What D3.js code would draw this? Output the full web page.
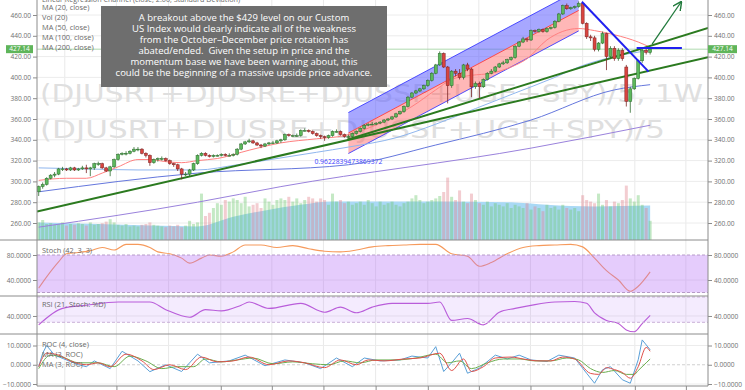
<!DOCTYPE html>
<html>
<head>
<meta charset="utf-8">
<script src="https://cdn.jsdelivr.net/npm/d3@7"></script>
<style>
body { margin: 0; background: #fff; }
svg { display: block; font-family: "Open Sans", sans-serif; }
</style>
</head>
<body>
<svg id="svg" width="745" height="390"></svg>
<script>
// weekly bars, first bar is the week of Monday 15 Feb 2016
var firstWeek = new Date(2016, 1, 15);

var opens = [
 290,295,297,303,306,307,312,312,311,313, 311,312,313,312,313,317,317,313,310,314,
 321,326,327,327,329,331,331,327,325,318, 321,322,322,320,317,316,312,307,307,311,
 317,325,327,325,324,325,325,326,325,325, 326,331,336,338,339,337,335,334,336,337,
 337,339,340,345,344,344,344,349,349,348, 346,344,343,342,344,348,348,345,343,343,
 346,348,351,354,355,355,356,357,359,360, 362,365,367,372,381,385,387,389,392,397,
 404,412,423,410,392,406,404,400,412,408, 391,394,391,398,404,406,410,413,414,417,
 419,430,434,437,436,445,444,446,444,447, 448,454,461,469,466,467,468,471,452,439,
 438,427,433,442,420,428,418,426,410,377, 389,399,416,426,424];
var closes = [
 295,297,303,306,307,312,312,311,313,311, 312,313,312,313,317,317,313,310,314,321,
 326,327,327,329,331,331,327,325,318,321, 322,322,320,317,316,312,307,307,311,317,
 325,327,325,324,325,325,326,325,325,326, 331,336,338,339,337,335,334,336,337,337,
 339,340,345,344,344,344,349,349,348,346, 344,343,342,344,348,348,345,343,343,346,
 348,351,354,355,355,356,357,359,360,362, 365,367,372,381,385,387,389,392,397,404,
 412,423,410,392,406,404,400,412,408,391, 394,391,398,404,406,410,413,414,417,419,
 430,434,437,436,445,444,446,444,447,448, 454,461,469,466,467,468,471,452,439,438,
 427,433,442,420,428,418,426,418,377,389, 399,416,426,424,427.14];
var highs = [
 296,299,304,307,309,313,314,313,314,314, 313,315,316,314,318,319,318,314,315,322,
 327,328,329,330,333,333,332,328,326,322, 323,324,323,321,318,317,313,309,312,318,
 326,328,328,326,326,326,327,327,327,327, 332,337,339,341,340,338,336,337,338,339,
 340,341,346,346,345,346,350,351,350,349, 347,345,344,345,349,350,349,346,345,347,
 349,352,355,356,357,357,358,360,361,363, 366,368,373,382,386,388,390,393,398,405,
 413,425,424,411,407,408,408,413,414,409, 396,396,399,405,408,411,414,416,418,420,
 431,435,439,438,446,446,447,447,448,449, 455,462,470,471,468,469,473,472,453,441,
 440,434,444,443,430,430,428,428,412,391, 400,417,428,428,429];
var lows = [
 286,293,296,302,304,306,310,310,310,310, 310,311,308,305,311,315,312,309,305,313,
 320,325,325,326,328,329,326,323,315,317, 319,320,319,316,314,310,302,305,305,310,
 316,324,324,323,323,324,324,324,324,324, 325,330,335,337,336,334,332,333,335,336,
 336,337,339,343,343,343,343,348,347,345, 343,341,339,341,343,347,344,342,341,342,
 345,347,350,353,354,354,355,356,358,359, 361,364,366,371,380,384,386,388,391,396,
 403,411,409,375,390,401,398,398,406,381, 389,380,390,397,403,405,409,412,413,416,
 418,429,433,434,435,443,443,443,443,446, 447,453,460,465,465,466,467,451,437,435,
 425,425,432,407,418,416,416,416,372,366, 388,398,414,422,422];
var volumes = [
 22,25,20,21,19,20,22,18,20,19, 21,20,18,22,19,20,21,23,26,22,
 19,18,20,17,18,17,19,20,22,19, 18,17,16,18,17,19,16,18,24,20,
 22,58,30,34,40,46,44,50,48,52, 50,46,54,42,44,46,40,52,48,44,
 50,52,50,54,48,52,46,50,54,52, 48,52,50,44,58,48,50,46,48,44,
 46,48,44,50,46,42,48,44,46,48, 44,42,46,48,52,56,50,46,48,50,
 52,55,60,78,54,50,62,48,46,58, 50,46,44,48,42,46,44,42,46,40,
 44,42,40,46,38,42,40,36,44,40, 42,38,44,40,38,40,36,56,50,48,
 46,58,44,50,42,48,46,50,68,52, 48,56,44,40,24];

// [week index, value]
var volAvg = [[0,22],[15,20],[28,18],[40,17],[49,29],[57,37],[66,44],[74,48],[100,48],[120,47],[128,44],[140,42],[154,43]];
var ma20 = [[0,301],[7,303],[12,303],[16,308],[20,314],[25,321],[28,321],[32,319],[36,318],[40,320],[45,322],[53,330],[61,337],[70,341],[77,344],[86,356],[94,372],[100,388],[104,398],[109,402],[114,404],[119,410],[123,418],[128,436],[136,447],[140,445],[145,441],[151,434],[154,429]];
var ma50 = [[0,313],[12,312],[25,311],[40,311],[50,316],[60,322],[70,328],[78,333],[90,342],[100,355],[110,370],[120,385],[130,400],[136,410],[145,420],[154,426]];
var ma100 = [[0,290],[40,308],[78,316],[100,335],[124,359],[145,388],[154,393]];
var ma200 = [[0,256],[40,280],[61,295],[124,332],[154,354]];
var stoch = [[0,27],[2,45],[5,69],[7,82],[10,84],[13,87],[16,92],[19,88],[22,97],[25,97],[28,92],[30,85],[33,82],[36,75],[38,67],[41,75],[43,80],[46,78],[49,85],[52,96],[56,96],[60,92],[64,95],[68,90],[72,86],[76,85],[80,88],[84,93],[88,95],[92,96],[96,97],[100,97],[104,82],[108,78],[111,62],[114,68],[118,82],[122,92],[126,95],[130,96],[134,97],[137,93],[140,75],[143,55],[146,40],[149,22],[151,30],[154,53]];
var rsi = [[0,26],[6,52],[12,57],[20,62],[28,62],[32,50],[38,38],[42,50],[46,48],[51,57],[53,62],[58,52],[66,60],[72,46],[76,54],[80,45],[84,54],[89,60],[98,60],[101,62],[104,33],[108,36],[112,26],[116,46],[120,52],[125,58],[130,62],[135,63],[138,60],[140,45],[143,33],[146,28],[148,18],[150,15],[152,28],[154,41]];
var roc = [[0,-1],[1,6],[2,10],[4,5],[7,2.5],[10,0],[12,-1],[14,2],[18,-2],[21,7],[25,2],[28,-3.6],[32,0],[36,-3.5],[40,5.5],[43,1],[48,2],[52,5],[57,-0.5],[62,2.5],[67,1],[71,-2],[75,3.5],[79,-1],[82,3.5],[86,2],[91,2.5],[94,4.5],[98,3.5],[100,9.4],[102,-3.5],[104,1],[106,6],[108,-4.4],[110,-2.6],[111,-1.7],[115,5],[118,3],[121,5],[124,2.5],[128,1.7],[131,5],[135,3.5],[138,-4.4],[140,-9.6],[142,-2.6],[144,-1],[147,-7.8],[149,-9.6],[151,2.6],[152,12.9],[154,7.8]];
var rocMaRed = [[0,-1],[2,6],[5,5],[8,2],[12,0],[15,1],[18,-1],[22,5.5],[26,2],[29,-2.5],[33,0],[37,-2.5],[41,4],[45,1.5],[49,2],[53,4],[58,0],[63,2],[67,1],[72,-1.5],[76,2.5],[80,0],[83,2.5],[87,2],[92,3],[96,3.5],[101,6],[104,-3],[107,3],[109,-3.5],[112,-1],[115,3.5],[119,4],[122,3],[126,2],[129,2],[132,4],[135,3],[139,-4.5],[141,-5],[143,-1.5],[145,-2.5],[147,-4],[149,-7],[151,-1],[153,9],[154,7]];
var rocMaGreen = [[0,-2],[3,5],[6,4],[10,1],[15,1],[19,-1],[23,4.5],[27,2],[31,-2],[35,-1],[39,-1],[42,3],[46,1.5],[50,2.5],[54,3.5],[59,0.5],[64,1.5],[69,0.5],[73,0],[77,2],[81,1],[85,2.5],[90,2.5],[95,3.5],[100,5.5],[103,1],[106,2],[109,-2],[113,1],[117,3],[121,3],[125,2],[129,2],[133,3.5],[136,2.5],[139,-2],[142,-4],[145,-3],[148,-5],[150,-5],[151,-3],[153,1],[154,3]];

// drawings: regression channel, trend lines, arrow (week index, price)
var channel = {from: 78, to: 136, startMid: 346.5, endMid: 464.4, dev: 19.7, label: "0.9622839473869372"};
var greenLines = [[[-0.4,271],[168.6,419.5]], [[77.7,340],[168.6,447.6]]];
var blueLines = [[[136.8,472.8],[153.6,405.5]], [[150.6,428.3],[162,428.3]]];
var arrowLine = [[154.5,432],[161.8,472.5]];

var priceTicks = [260,280,300,320,340,360,380,400,420,440,460];
var lastPrice = 427.14;
var legendLabels = ["MA (20, close)", "Vol (20)", "MA (50, close)", "MA (100, close)", "MA (200, close)"];
var note = [
 "A breakout above the $429 level on our Custom",
 "US Index would clearly indicate all of the weakness",
 "from the October\u2013December price rotation has",
 "abated/ended.  Given the setup in price and the",
 "momentum base we have been warning about, this",
 "could be the beginning of a massive upside price advance."];
var watermark = ["(DJUSRT+DJUSRE+DJUSSF+UGE+SPY)/5, 1W", "(DJUSRT+DJUSRE+DJUSSF+UGE+SPY)/5"];
var watermarkWidths = [663, 625];

var svg = d3.select("#svg"),
    left = 37, right = 708;

var x = d3.scaleTime()
    .domain([new Date(2016, 1, 12), new Date(2019, 4, 10)])
    .range([left, right]);
function wx(i) { return x(new Date(+firstWeek + i * 7 * 864e5)); }

// panel scales
var y = d3.scaleLinear().domain([260, 460]).range([223, 15]);
var yVol = d3.scaleLinear().domain([0, 100]).range([240, 160]);
var yStoch = d3.scaleLinear().domain([20, 80]).range([292.5, 255]);
var yRsi = d3.scaleLinear().domain([30, 70]).range([322.3, 297]);
var yRoc = d3.scaleLinear().domain([-10, 10]).range([384, 345.5]);
var panels = [[0, 240], [240, 296], [296, 334], [334, 386]];

var defs = svg.append("defs");
panels.forEach(function(p, k) {
    defs.append("clipPath").attr("id", "clip" + k)
        .append("rect").attr("x", left).attr("y", p[0]).attr("width", right - left).attr("height", p[1] - p[0]);
});

// grid
var quarters = x.ticks(d3.timeMonth.every(3));
svg.append("g").selectAll("line").data(quarters).enter().append("line")
    .attr("x1", function(d) { return x(d); }).attr("x2", function(d) { return x(d); })
    .attr("y1", 0).attr("y2", 386)
    .attr("stroke", "#e9e9e9");
svg.append("g").selectAll("line").data(priceTicks).enter().append("line")
    .attr("x1", left).attr("x2", right)
    .attr("y1", function(d) { return y(d); }).attr("y2", function(d) { return y(d); })
    .attr("stroke", "#ececec");
[[yStoch, 40], [yRsi, 40], [yRoc, 10], [yRoc, -10]].forEach(function(g) {
    svg.append("line").attr("x1", left).attr("x2", right)
        .attr("y1", g[0](g[1])).attr("y2", g[0](g[1])).attr("stroke", "#ececec");
});

// watermark
svg.append("g").selectAll("text").data(watermark).enter().append("text")
    .attr("x", 40).attr("y", function(d, i) { return 102 + i * 36; })
    .attr("textLength", function(d, i) { return watermarkWidths[i]; })
    .attr("lengthAdjust", "spacingAndGlyphs")
    .style("font-family", "DejaVu Sans").style("font-size", "25px").attr("fill", "#dfdfdf")
    .text(function(d) { return d; });

var price = svg.append("g").attr("clip-path", "url(#clip0)");

// volume average area and bars
price.append("path").datum(volAvg)
    .attr("fill", "#a9d9f5")
    .attr("d", d3.area().x(function(d) { return wx(d[0]); }).y0(240).y1(function(d) { return yVol(d[1]); }).curve(d3.curveMonotoneX));
price.append("g").selectAll("rect").data(volumes).enter().append("rect")
    .attr("x", function(d, i) { return wx(i) - 1.5; })
    .attr("width", 3)
    .attr("y", function(d) { return yVol(d); })
    .attr("height", function(d) { return 240 - yVol(d); })
    .attr("fill", function(d, i) { return closes[i] >= opens[i] ? "rgba(110,200,110,0.4)" : "rgba(225,130,140,0.4)"; });

// last price line
price.append("line").attr("x1", left).attr("x2", right)
    .attr("y1", y(lastPrice)).attr("y2", y(lastPrice))
    .attr("stroke", "#9bd09b").attr("stroke-width", 0.8);

// regression channel
var c0 = wx(channel.from), c1 = wx(channel.to);
function chPoly(a, b) {
    return [[c0, y(channel.startMid + a)], [c1, y(channel.endMid + a)], [c1, y(channel.endMid + b)], [c0, y(channel.startMid + b)]].join("L");
}
price.append("path").attr("d", "M" + chPoly(channel.dev, 0) + "Z").attr("fill", "rgba(95,95,255,0.55)");
price.append("path").attr("d", "M" + chPoly(0, -channel.dev) + "Z").attr("fill", "rgba(255,95,95,0.45)");
[[channel.dev, "#3b3bff"], [0, "#ff3b3b"], [-channel.dev, "#3b3bff"]].forEach(function(l) {
    price.append("line").attr("x1", c0).attr("x2", c1)
        .attr("y1", y(channel.startMid + l[0])).attr("y2", y(channel.endMid + l[0]))
        .attr("stroke", l[1]).attr("stroke-width", 0.9);
});
price.append("text").attr("x", c0).attr("y", y(channel.startMid - channel.dev) + 10)
    .attr("text-anchor", "middle").style("font-size", "6.8px").attr("fill", "#3b3bff")
    .text(channel.label);

// moving averages
var maLine = d3.line().x(function(d) { return wx(d[0]); }).y(function(d) { return y(d[1]); }).curve(d3.curveMonotoneX);
[[ma200, "#9a82dc"], [ma100, "#6577dd"], [ma50, "#8fb6ee"], [ma20, "#ff8080"]].forEach(function(m) {
    price.append("path").datum(m[0]).attr("fill", "none").attr("stroke", m[1]).attr("stroke-width", 1).attr("d", maLine);
});

// green trend lines
var segLine = d3.line().x(function(d) { return wx(d[0]); }).y(function(d) { return y(d[1]); });
greenLines.forEach(function(l) {
    price.append("path").datum(l).attr("fill", "none").attr("stroke", "#2b7a1f").attr("stroke-width", 2).attr("d", segLine);
});

// candles
var candle = price.append("g").selectAll("g").data(closes).enter().append("g");
candle.append("line")
    .attr("x1", function(d, i) { return wx(i); }).attr("x2", function(d, i) { return wx(i); })
    .attr("y1", function(d, i) { return y(highs[i]); }).attr("y2", function(d, i) { return y(lows[i]); })
    .attr("stroke", function(d, i) { return d >= opens[i] ? "#2d6b2d" : "#7a2424"; }).attr("stroke-width", 0.8);
candle.append("rect")
    .attr("x", function(d, i) { return wx(i) - 1.5; })
    .attr("width", 3)
    .attr("y", function(d, i) { return y(Math.max(d, opens[i])); })
    .attr("height", function(d, i) { return Math.max(0.8, Math.abs(y(d) - y(opens[i]))); })
    .attr("fill", function(d, i) { return d >= opens[i] ? "#5cb85c" : "#d9443f"; })
    .attr("stroke", function(d, i) { return d >= opens[i] ? "#2d6b2d" : "#7a2424"; })
    .attr("stroke-width", 0.5);

// blue lines and arrow
blueLines.forEach(function(l) {
    price.append("path").datum(l).attr("fill", "none").attr("stroke", "#2020f0").attr("stroke-width", 2).attr("d", segLine);
});
defs.append("marker").attr("id", "arrow").attr("viewBox", "0 0 10 10").attr("refX", 9).attr("refY", 5)
    .attr("markerWidth", 7).attr("markerHeight", 7).attr("orient", "auto")
    .append("path").attr("d", "M0,0L10,5L0,10").attr("fill", "none").attr("stroke", "#217a3c").attr("stroke-width", 1.6);
price.append("path").datum(arrowLine).attr("fill", "none").attr("stroke", "#217a3c").attr("stroke-width", 1.3)
    .attr("marker-end", "url(#arrow)").attr("d", segLine);

// stochastic panel
var stochG = svg.append("g").attr("clip-path", "url(#clip1)");
stochG.append("path").datum(stoch).attr("fill", "none").attr("stroke", "#f69a5c").attr("stroke-width", 1.1)
    .attr("d", d3.line().x(function(d) { return wx(d[0]); }).y(function(d) { return yStoch(d[1]); }).curve(d3.curveMonotoneX));
stochG.append("rect").attr("x", left).attr("width", right - left)
    .attr("y", yStoch(80)).attr("height", yStoch(20) - yStoch(80)).attr("fill", "rgba(180,110,245,0.35)");
[80, 20].forEach(function(v) {
    stochG.append("line").attr("x1", left).attr("x2", right).attr("y1", yStoch(v)).attr("y2", yStoch(v))
        .attr("stroke", "#b69ac8").attr("stroke-dasharray", "3,2");
});

// rsi panel
var rsiG = svg.append("g").attr("clip-path", "url(#clip2)");
rsiG.append("path").datum(rsi).attr("fill", "none").attr("stroke", "#bb5ad6").attr("stroke-width", 1.1)
    .attr("d", d3.line().x(function(d) { return wx(d[0]); }).y(function(d) { return yRsi(d[1]); }).curve(d3.curveMonotoneX));
rsiG.append("rect").attr("x", left).attr("width", right - left)
    .attr("y", yRsi(70)).attr("height", yRsi(30) - yRsi(70)).attr("fill", "rgba(180,110,245,0.14)");
[70, 30].forEach(function(v) {
    rsiG.append("line").attr("x1", left).attr("x2", right).attr("y1", yRsi(v)).attr("y2", yRsi(v))
        .attr("stroke", "#c8b0d8").attr("stroke-dasharray", "3,2");
});

// roc panel
var rocG = svg.append("g").attr("clip-path", "url(#clip3)");
rocG.append("line").attr("x1", left).attr("x2", right).attr("y1", yRoc(0)).attr("y2", yRoc(0))
    .attr("stroke", "#d0d0d0").attr("stroke-dasharray", "3,2");
var rocLine = d3.line().x(function(d) { return wx(d[0]); }).y(function(d) { return yRoc(d[1]); });
rocG.append("path").datum(roc).attr("fill", "none").attr("stroke", "#5aa0d8").attr("stroke-width", 1).attr("d", rocLine);
rocG.append("path").datum(rocMaGreen).attr("fill", "none").attr("stroke", "#6aae4e").attr("stroke-width", 1)
    .attr("d", rocLine.curve(d3.curveMonotoneX));
rocG.append("path").datum(rocMaRed).attr("fill", "none").attr("stroke", "#e0504a").attr("stroke-width", 1)
    .attr("d", rocLine.curve(d3.curveMonotoneX));

// panel borders and axes
[240, 296, 334].forEach(function(v) {
    svg.append("line").attr("x1", 0).attr("x2", right).attr("y1", v).attr("y2", v).attr("stroke", "#8c8c8c");
});
[left, right].forEach(function(v) {
    svg.append("line").attr("x1", v).attr("x2", v).attr("y1", 0).attr("y2", 386).attr("stroke", "#8c8c8c");
});
svg.append("line").attr("x1", left).attr("x2", right).attr("y1", 386).attr("y2", 386).attr("stroke", "#8c8c8c");
svg.append("g").attr("transform", "translate(0,386)")
    .call(d3.axisBottom(x).tickValues(quarters).tickSize(4).tickFormat(""))
    .call(function(g) { g.select(".domain").remove(); g.selectAll("line").attr("stroke", "#8c8c8c"); });

function sideAxes(scale, ticks, fmt) {
    [[d3.axisLeft, left], [d3.axisRight, right]].forEach(function(a) {
        svg.append("g").attr("transform", "translate(" + a[1] + ",0)")
            .call(a[0](scale).tickValues(ticks).tickSize(4).tickPadding(2).tickFormat(d3.format(fmt)))
            .call(function(g) {
                g.select(".domain").remove();
                g.selectAll("line").attr("stroke", "#8c8c8c");
                g.selectAll("text").attr("fill", "#707070").style("font-size", "6.6px").style("font-family", "Open Sans");
            });
    });
}
sideAxes(y, priceTicks, ".2f");
sideAxes(yStoch, [40, 80], ".4f");
sideAxes(yRsi, [40], ".4f");
sideAxes(yRoc, [-10, 0, 10], ".4f");

// last price tags
[[6, 33], [708, 737]].forEach(function(b) {
    svg.append("rect").attr("x", b[0]).attr("width", b[1] - b[0])
        .attr("y", y(lastPrice) - 4).attr("height", 8).attr("fill", "#5fb55a");
    svg.append("text").attr("x", (b[0] + b[1]) / 2).attr("y", y(lastPrice) + 2.3)
        .attr("text-anchor", "middle").style("font-size", "6.6px").attr("fill", "#fff")
        .text(d3.format(".2f")(lastPrice));
});

// legends
svg.append("text").attr("x", 42).attr("y", 1.5).style("font-size", "7.2px").attr("fill", "#6a6a6a")
    .text("Linear Regression Channel (close, 2.00, Standard Deviation)");
svg.append("g").selectAll("text").data(legendLabels).enter().append("text")
    .attr("x", 42).attr("y", function(d, i) { return 9.5 + i * 10.2; })
    .style("font-size", "7.4px").attr("fill", "#6a6a6a")
    .text(function(d) { return d; });
[["Stoch (42, 3, 3)", 253], ["RSI (21, Stoch: %D)", 307], ["ROC (4, close)", 347], ["MA (3, ROC)", 357], ["MA (3, ROC)", 367]].forEach(function(t) {
    svg.append("text").attr("x", 42).attr("y", t[1]).style("font-size", "7.4px").attr("fill", "#6a6a6a").text(t[0]);
});

// annotation box
svg.append("rect").attr("x", 101).attr("y", 6).attr("width", 286).attr("height", 81).attr("fill", "#6e6e6e");
svg.append("g").selectAll("text").data(note).enter().append("text")
    .attr("x", 244).attr("y", function(d, i) { return 20.7 + i * 11.06; })
    .attr("text-anchor", "middle").style("font-size", "9.5px").style("white-space", "pre").attr("fill", "#fff")
    .text(function(d) { return d; });
</script>
</body>
</html>
